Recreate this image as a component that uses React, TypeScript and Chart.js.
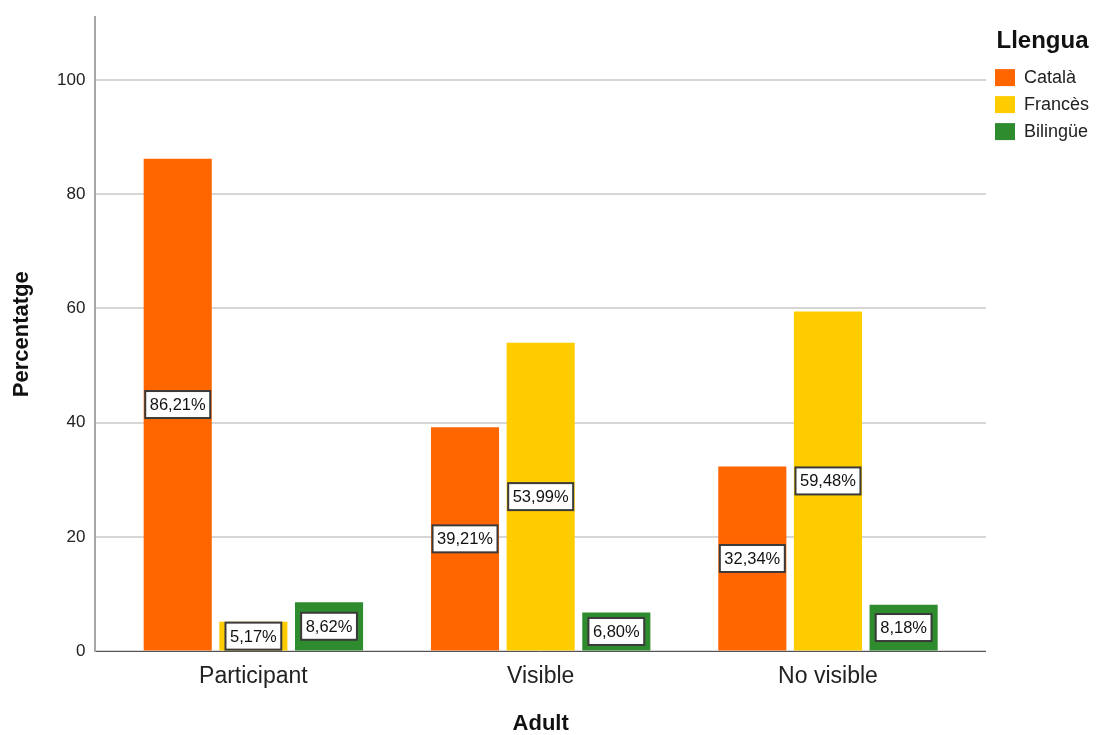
import React, { useEffect, useRef } from "react";
import { Chart, registerables } from "chart.js";

Chart.register(...registerables);

const categories = ["Participant", "Visible", "No visible"];
const seriesNames = ["Català", "Francès", "Bilingüe"];
const catalaValues = [86.21, 39.21, 32.34];
const francesValues = [5.17, 53.99, 59.48];
const bilingueValues = [8.62, 6.8, 8.18];
const yTickValues = [0, 20, 40, 60, 80, 100];
const seriesColors = ["#FF6600", "#FFCC00", "#2E8B2E"];

const FONT = '"Liberation Sans", Arial, Helvetica, sans-serif';

const barLabelPlugin = {
  id: "barLabels",
  afterDatasetsDraw(chart: any) {
    const ctx = chart.ctx;
    ctx.save();
    ctx.font = `16.5px ${FONT}`;
    ctx.textAlign = "center";
    ctx.textBaseline = "middle";
    chart.data.datasets.forEach((ds: any, di: number) => {
      const meta = chart.getDatasetMeta(di);
      meta.data.forEach((bar: any, i: number) => {
        const v = ds.data[i].y as number;
        const text = v.toFixed(2).replace(".", ",") + "%";
        const { x, y, base } = bar.getProps(["x", "y", "base"], true);
        const cy = (y + base) / 2;
        const w = ctx.measureText(text).width + 9;
        const h = 27;
        ctx.fillStyle = "#ffffff";
        ctx.fillRect(x - w / 2, cy - h / 2, w, h);
        ctx.strokeStyle = "#3a3a3a";
        ctx.lineWidth = 2;
        ctx.strokeRect(x - w / 2, cy - h / 2, w, h);
        ctx.fillStyle = "#111111";
        ctx.fillText(text, x, cy + 1);
      });
    });
    ctx.restore();
  },
};

export default function App() {
  const canvasRef = useRef<HTMLCanvasElement | null>(null);

  useEffect(() => {
    if (!canvasRef.current) return;
    Chart.defaults.font.family = FONT;
    const seriesValues = [catalaValues, francesValues, bilingueValues];
    const chart = new Chart(canvasRef.current, {
      type: "bar",
      data: {
        datasets: seriesNames.map((name, si) => ({
          label: name,
          data: seriesValues[si].map((v, ci) => ({ x: ci, y: v })),
          backgroundColor: seriesColors[si],
          borderWidth: 0,
          categoryPercentage: 0.79,
          barPercentage: 0.9,
        })),
      },
      options: {
        responsive: false,
        animation: false,
        layout: { padding: { top: 17, left: 11, right: -3, bottom: 0 } },
        plugins: {
          tooltip: { enabled: false },
          legend: {
            position: "right",
            align: "start",
            title: {
              display: true,
              text: "Llengua",
              position: "center",
              color: "#111",
              font: { size: 24, weight: "bold", family: FONT },
              padding: { top: 12.4, bottom: 1.4 },
            },
            labels: {
              boxWidth: 20,
              boxHeight: 17,
              padding: 9,
              color: "#222",
              font: { size: 18, family: FONT },
            },
          },
        },
        scales: {
          x: {
            type: "linear",
            offset: false,
            min: -0.55,
            max: 2.55,
            afterBuildTicks: (scale: any) => {
              scale.ticks = categories.map((_, i) => ({ value: i }));
            },
            ticks: {
              autoSkip: false,
              maxRotation: 0,
              padding: 11,
              color: "#222",
              font: { size: 23, family: FONT },
              callback: (value: any) => categories[value as number] ?? "",
            },
            grid: { display: true, offset: false, color: "rgba(0,0,0,0)", drawTicks: false },
            border: { display: true, color: "#555", width: 1 },
            title: {
              display: true,
              text: "Adult",
              color: "#111",
              font: { size: 22, weight: "bold", family: FONT, lineHeight: 1 },
              padding: { top: 12, bottom: 0 },
            },
          },
          y: {
            min: 0,
            max: 111,
            afterBuildTicks: (scale: any) => {
              scale.ticks = yTickValues.map((v) => ({ value: v }));
            },
            afterFit: (scale: any) => {
              scale.paddingTop = 0;
              scale.paddingBottom = 0;
            },
            ticks: {
              padding: 10,
              color: "#222",
              font: { size: 17, family: FONT },
            },
            grid: { color: "#d6d6d6", lineWidth: 2, drawTicks: false },
            border: { display: true, color: "#a6a6a6", width: 2 },
            title: {
              display: true,
              text: "Percentatge",
              color: "#111",
              font: { size: 22, weight: "bold", family: FONT, lineHeight: 1 },
              padding: { top: 0, bottom: 14 },
            },
          },
        },
      },
      plugins: [barLabelPlugin],
    } as any);
    return () => chart.destroy();
  }, []);

  return (
    <div style={{ position: "fixed", left: 0, top: 0, width: 1096, height: 735, background: "#fff" }}>
      <canvas ref={canvasRef} width={1096} height={735} style={{ display: "block" }} />
    </div>
  );
}
